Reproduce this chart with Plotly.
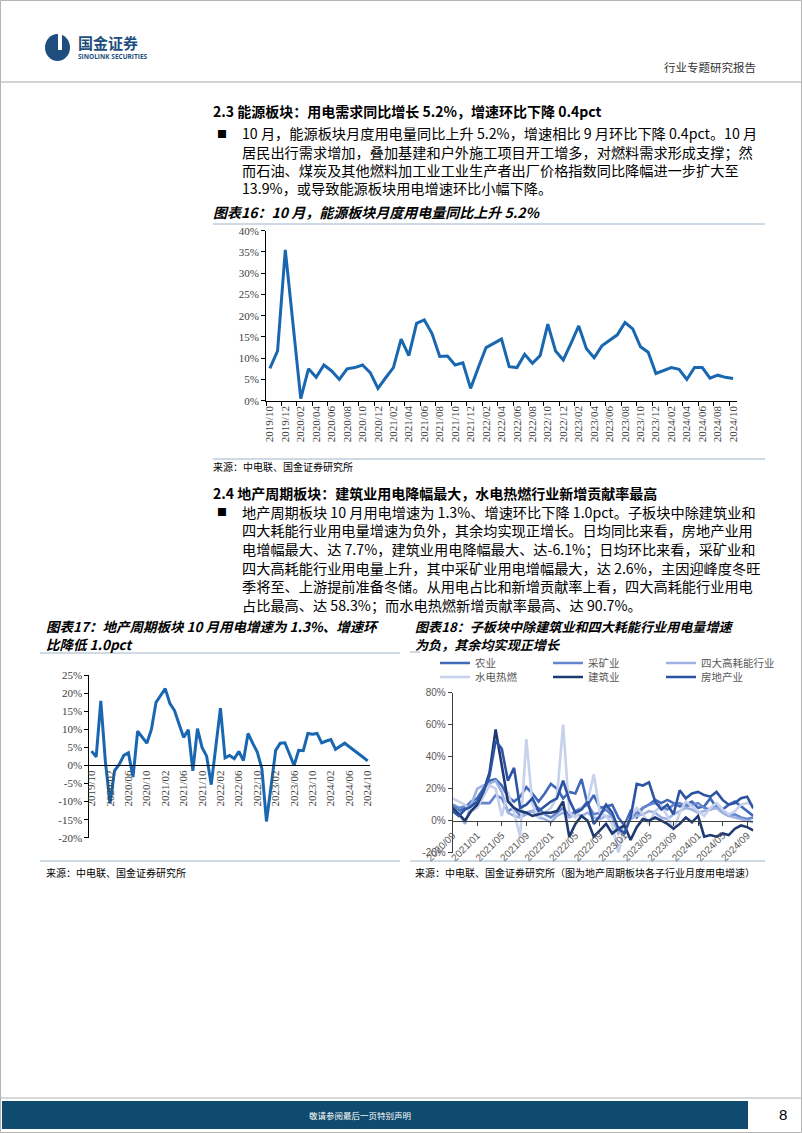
import plotly.graph_objects as go

W, H = 802, 1133
CJK = "Noto Sans CJK SC"
SERIF = "Liberation Serif"
SANS = "Liberation Sans"
BLUE = "#1A67B1"


def px(x):
    return x / W


def py(y):
    return 1 - y / H


def month_labels(y0, m0, n):
    out, y, m = [], y0, m0
    for _ in range(n):
        out.append(f"{y}/{m:02d}")
        m += 1
        if m > 12:
            m, y = 1, y + 1
    return out


# ---------------- data ----------------
months_energy = month_labels(2019, 10, 61)
energy_yoy = [7.6, 11.7, 35.5, 18.0, 0.5, 7.5, 5.5, 8.4, 7.0, 5.0,
              7.5, 7.8, 8.4, 6.6, 2.9, 5.4, 7.8, 14.5, 10.6, 18.2,
              19.0, 15.8, 10.4, 10.5, 8.4, 8.9, 2.9, 7.8, 12.5, 13.5,
              14.5, 8.0, 7.8, 10.9, 8.8, 10.6, 18.0, 11.7, 9.6, 13.5,
              17.6, 12.2, 10.1, 12.9, 14.1, 15.5, 18.4, 16.9, 12.7, 11.4,
              6.4, 7.1, 7.8, 7.4, 5.0, 7.8, 7.8, 5.3, 6.0, 5.5, 5.2]

months_property = month_labels(2019, 10, 61)
property_yoy = [4.0, 2.4, 17.9, 1.0, -10.5, -1.4, 0.3, 2.8, 3.5, -3.2,
                9.5, 7.9, 6.2, 10.0, 17.5, 19.4, 21.3, 17.2, 15.3, 11.5,
                7.8, 9.9, -1.5, 10.2, 5.0, 2.6, -5.3, 5.3, 15.9, 2.1,
                2.8, 1.9, 3.9, 1.4, 8.9, 6.2, 3.7, -0.8, -15.5, -5.7,
                4.2, 6.2, 6.3, 3.2, 0.0, 4.2, 4.1, 8.9, 8.7, 8.9,
                6.3, 6.8, 7.2, 4.5, 5.3, 6.2, 5.2, 4.3, 3.3, 2.3, 1.3]

months_sub = month_labels(2020, 9, 50)
sub_names = ["农业", "采矿业", "四大高耗能行业", "水电热燃", "建筑业", "房地产业"]
sub_colors = ["#3F68B9", "#6585CE", "#9DB2E1", "#C6D1EB", "#1F3A73", "#2D53A3"]
agri = [9, 6, 8, 12, 14, 20, 25, 26, 22, 15, 12, 15, 21, 17, 12, 17, 23, 20, 14, 18,
        17, 26, 10, 16, 8, 9, 10, 2, -3, 6, 2, 8, 10, 13, 11, 13, 11, 9, 10, 12,
        8, 9, 14, 8, 7, 10, 12, 9, 6, 3]
mining = [10, 8, 9, 11, 11, 11, 11, 16, 14, 6, 8, 3, 5, 6, 8, 4, 2, 5, 8, 3,
          6, 8, 10, 4, 5, 7, 3, -6, -4, 2, 5, 8, 10, 11, 9, 7, 10, 11, 9, 10,
          11, 8, 7, 9, 5, 3, 4, 2, 1, 2]
heavy = [8, 5, -2, 10, 20, 22, 23, 25, 18, 5, 3, 2, 4, 6, 2, 1, -1, 3, 5, 2,
         4, 3, 5, 2, 1, 3, 2, -8, -4, 1, 3, 4, 6, 5, 2, 1, 4, 6, 8, 7,
         5, 6, 7, 8, 5, 3, 2, 1, 0, -1]
utility = [14, 12, 10, 6, 8, 15, 22, 20, 3, 18, 5, -10, 51, 10, 2, 5, 8, 15, 60, 5,
           2, 8, 12, 29, 5, 3, -2, -20, -5, 2, 8, 4, -2, 6, 9, 3, -6, 5, 12, 9,
           6, 3, 8, 11, 7, 4, 6, 10, 11, 10]
construction = [8, 4, 0, 6, 10, 18, 30, 57, 35, 12, 8, 6, 5, 3, 4, 5, 5, 6, 12, -10,
                -2, 3, 0, -10, -6, -2, -8, -5, -3, -12, -4, 1, 0, 2, 0, -2, -5, -2, 2, -1,
                3, -10, -9, -10, -8, -9, -5, -3, -4, -6]
realestate = [6, 3, 7, 9, 12, 18, 28, 50, 45, 25, 33, 8, 10, 14, 6, 9, 12, 14, 25, 13,
              5, 7, 12, -2, 3, 10, 5, -5, -8, 2, 23, 22, 24, 12, 7, 10, 4, 19, 14, 17,
              18, 16, 15, 18, 13, 10, 11, 14, 15, 7.7]
sub_values = [agri, mining, heavy, utility, construction, realestate]

energy_ticks = [0, 5, 10, 15, 20, 25, 30, 35, 40]
property_ticks = [-20, -15, -10, -5, 0, 5, 10, 15, 20, 25]
sub_ticks = [-20, 0, 20, 40, 60, 80]

# ---------------- figure ----------------
fig = go.Figure()

fig.add_trace(go.Scatter(x=list(range(len(months_energy))), y=energy_yoy, mode="lines",
                         line=dict(color=BLUE, width=3), xaxis="x", yaxis="y",
                         showlegend=False, text=months_energy))
fig.add_trace(go.Scatter(x=list(range(len(months_property))), y=property_yoy, mode="lines",
                         line=dict(color=BLUE, width=3), xaxis="x2", yaxis="y2",
                         showlegend=False, text=months_property))
for k, (name, vals, col) in enumerate(zip(sub_names, sub_values, sub_colors)):
    fig.add_trace(go.Scatter(x=list(range(len(months_sub))), y=vals, mode="lines", name=name,
                             line=dict(color=col, width=2.6), xaxis="x3", yaxis="y3",
                             legend="legend" if k < 3 else "legend2", text=months_sub))

serif_font = dict(family=SERIF, size=11, color="#404040")
sans_font = dict(family=SANS, size=10, color="#595959")
legend_common = dict(xanchor="left", yanchor="middle", orientation="h",
                     entrywidth=68, entrywidthmode="pixels", itemwidth=30,
                     font=dict(family=CJK, size=10.5, color="#595959"),
                     bgcolor="rgba(0,0,0,0)", borderwidth=0, tracegroupgap=0)

fig.update_layout(
    width=W, height=H, autosize=False,
    margin=dict(l=0, r=0, t=0, b=0, pad=0, autoexpand=False),
    paper_bgcolor="white", plot_bgcolor="rgba(0,0,0,0)",
    xaxis=dict(domain=[px(266), px(737)], range=[-0.5, 60.5], anchor="y",
               tickmode="array", tickvals=list(range(0, 61, 2)), ticktext=months_energy[::2],
               tickangle=-90, ticks="", showline=True, linecolor="#000", linewidth=1,
               showgrid=False, zeroline=False, tickfont=serif_font, automargin=False,
               minor=dict(tickmode="array", tickvals=[i - 0.5 for i in range(0, 62, 2)],
                          ticks="outside", ticklen=4, tickcolor="#000", showgrid=False)),
    yaxis=dict(domain=[py(400.7), py(230.7)], range=[0, 40], anchor="x",
               tickmode="array", tickvals=energy_ticks, ticktext=[f"{v}%" for v in energy_ticks],
               ticks="outside", ticklen=4, tickcolor="#000", showline=True, linecolor="#000",
               showgrid=False, zeroline=False, tickfont=serif_font, automargin=False),
    xaxis2=dict(domain=[px(89.3), px(370)], range=[-0.5, 60.5], anchor="free", position=py(765),
                tickmode="array", tickvals=list(range(0, 61, 4)), ticktext=months_property[::4],
                tickangle=-90, ticks="", showline=True, linecolor="#000", linewidth=1.2,
                showgrid=False, zeroline=False, tickfont=serif_font, automargin=False),
    yaxis2=dict(domain=[py(837.7), py(675.3)], range=[-20, 25], anchor="x2",
                tickmode="array", tickvals=property_ticks, ticktext=[f"{v}%" for v in property_ticks],
                ticks="outside", ticklen=4, tickcolor="#000", showline=True, linecolor="#000",
                showgrid=False, zeroline=False, tickfont=serif_font, automargin=False),
    xaxis3=dict(domain=[px(452.7), px(753.3)], range=[0, 49], anchor="free", position=py(820.7),
                tickmode="array", tickvals=list(range(0, 50, 4)), ticktext=months_sub[::4],
                tickangle=-45, ticks="outside", ticklen=4, tickcolor="#404040",
                showline=True, linecolor="#404040", linewidth=1.2,
                showgrid=False, zeroline=False, tickfont=sans_font, automargin=False),
    yaxis3=dict(domain=[py(852.7), py(692.7)], range=[-20, 80], anchor="x3",
                tickmode="array", tickvals=sub_ticks, ticktext=[f"{v}%" for v in sub_ticks],
                ticks="outside", ticklen=4, tickcolor="#404040", showline=True, linecolor="#404040",
                showgrid=False, zeroline=False, tickfont=sans_font, automargin=False),
    legend=dict(x=px(435), y=py(663), **legend_common),
    legend2=dict(x=px(435), y=py(677), **legend_common),
)

# ---------------- page text ----------------
ann = []


def text(x, y, s, size=13, color="#000", family=CJK, xanchor="left"):
    ann.append(dict(x=px(x), y=py(y), xref="paper", yref="paper", text=s, showarrow=False,
                    xanchor=xanchor, yanchor="middle", font=dict(family=family, size=size, color=color)))


NAVY = "#1D4E7E"
text(76, 42, "<b>国金证券</b>", size=15, color=NAVY)
text(76, 57, "<b>SINOLINK SECURITIES</b>", size=6.5, color=NAVY, family="Open Sans")
text(758, 67, "行业专题研究报告", size=11.5, color="#333", xanchor="right")

BODY = 14.2
text(211, 111, "<b>2.3 能源板块：用电需求同比增长 5.2%，增速环比下降 0.4pct</b>", size=14)
text(215, 133, "■", size=10)
para1 = ["10 月，能源板块月度用电量同比上升 5.2%，增速相比 9 月环比下降 0.4pct。10 月",
         "居民出行需求增加，叠加基建和户外施工项目开工增多，对燃料需求形成支撑；然",
         "而石油、煤炭及其他燃料加工业工业生产者出厂价格指数同比降幅进一步扩大至",
         "13.9%，或导致能源板块用电增速环比小幅下降。"]
for k, line in enumerate(para1):
    text(240, 133 + 18.5 * k, line, size=BODY)

text(211, 212, "<b><i>图表16：10 月，能源板块月度用电量同比上升 5.2%</i></b>", size=14)
text(211, 466, "来源：中电联、国金证券研究所", size=10)

text(211, 493, "<b>2.4 地产周期板块：建筑业用电降幅最大，水电热燃行业新增贡献率最高</b>", size=14)
text(215, 512, "■", size=10)
para2 = ["地产周期板块 10 月用电增速为 1.3%、增速环比下降 1.0pct。子板块中除建筑业和",
         "四大耗能行业用电量增速为负外，其余均实现正增长。日均同比来看，房地产业用",
         "电增幅最大、达 7.7%，建筑业用电降幅最大、达-6.1%；日均环比来看，采矿业和",
         "四大高耗能行业用电量上升，其中采矿业用电增幅最大，达 2.6%，主因迎峰度冬旺",
         "季将至、上游提前准备冬储。从用电占比和新增贡献率上看，四大高耗能行业用电",
         "占比最高、达 58.3%；而水电热燃新增贡献率最高、达 90.7%。"]
for k, line in enumerate(para2):
    text(240, 512 + 18.5 * k, line, size=BODY)

text(44, 626, "<b><i>图表17：地产周期板块 10 月用电增速为 1.3%、增速环</i></b>", size=13.5)
text(44, 644, "<b><i>比降低 1.0pct</i></b>", size=13.5)
text(413, 626, "<b><i>图表18：子板块中除建筑业和四大耗能行业用电量增速</i></b>", size=13.1)
text(413, 644, "<b><i>为负，其余均实现正增长</i></b>", size=13.1)
text(44, 872, "来源：中电联、国金证券研究所", size=10)
text(413, 872, "来源：中电联、国金证券研究所（图为地产周期板块各子行业月度用电增速）", size=10)

text(360, 1115, "敬请参阅最后一页特别声明", size=8.5, color="white", xanchor="center")
text(783, 1114, "8", size=15, color="#000", family=SANS, xanchor="center")
fig.update_layout(annotations=ann)

# ---------------- page decorations ----------------
SEP = "#9DB4C8"
shapes = []


def hline(x0, x1, y, color=SEP, width=1):
    shapes.append(dict(type="line", xref="paper", yref="paper", x0=px(x0), x1=px(x1),
                       y0=py(y), y1=py(y), line=dict(color=color, width=width)))


hline(0, 802, 82, color="#A8A8A8")
hline(213, 765, 224)
hline(213, 765, 459)
hline(40, 400, 653)
hline(410, 420, 652)
hline(40, 400, 861)
hline(410, 765, 861)
hline(0, 802, 1098, color="#B0B0B0")
shapes.append(dict(type="rect", xref="paper", yref="paper", x0=px(2), x1=px(748),
                   y0=py(1129), y1=py(1101), fillcolor="#0F4B6E", line=dict(width=0)))
# page frame
shapes.append(dict(type="rect", xref="paper", yref="paper", x0=px(0.5), x1=px(801.5),
                   y0=py(1132.5), y1=py(0.5), line=dict(color="#B5B5B5", width=1)))
# logo
shapes.append(dict(type="circle", xref="paper", yref="paper", x0=px(45), x1=px(70),
                   y0=py(61), y1=py(34), fillcolor=NAVY, line=dict(width=0)))
shapes.append(dict(type="rect", xref="paper", yref="paper", x0=px(58), x1=px(62),
                   y0=py(50), y1=py(32), fillcolor="white", line=dict(width=0)))
fig.update_layout(shapes=shapes)

fig.write_html("out.html")
